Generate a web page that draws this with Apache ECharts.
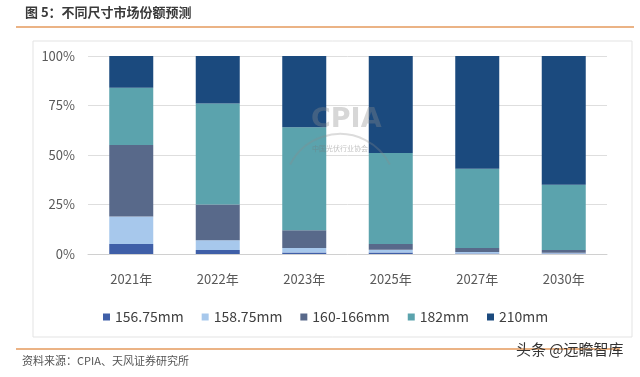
<!DOCTYPE html>
<html>
<head>
<meta charset="utf-8">
<script src="https://cdn.jsdelivr.net/npm/echarts@6/dist/echarts.min.js"></script>
<style>
  html, body { margin: 0; padding: 0; background: #fff; }
  #main { width: 640px; height: 377px; }
</style>
</head>
<body>
<div id="main"></div>
<script>
// 年份 / 各尺寸份额（%）
const years = ["2021年", "2022年", "2023年", "2025年", "2027年", "2030年"];
const s15675 = [5, 2, 0.8, 0.8, 0.3, 0.2];
const s15875 = [14, 5, 2.2, 1.3, 0.7, 0.4];
const s160166 = [36, 18, 9, 2.9, 2, 1.4];
const s182 = [29, 51, 52, 46, 40, 33];
const s210 = [16, 24, 36, 49, 57, 65];
const seriesNames = ["156.75mm", "158.75mm", "160-166mm", "182mm", "210mm"];
const colors = ["#3f5fa8", "#a7c8ec", "#58698a", "#5ba3ad", "#1b4a7e"];

const fontCN = '"Noto Sans CJK SC", "Noto Sans", sans-serif';
const chart = echarts.init(document.getElementById("main"));

const mk = (name, data, i) => ({
  name: name,
  type: "bar",
  stack: "total",
  barWidth: 44,
  data: data,
  itemStyle: { color: colors[i] },
});

const option = {
  animation: false,
  color: colors,
  textStyle: { fontFamily: fontCN },
  grid: { left: 88, right: 33, top: 56, bottom: 123 },
  legend: {
    data: seriesNames,
    left: 98,
    top: 305,
    itemWidth: 7,
    itemHeight: 7,
    itemGap: 18,
    icon: "rect",
    textStyle: { fontSize: 14, color: "#404040", fontFamily: fontCN },
  },
  xAxis: {
    type: "category",
    data: years,
    axisLine: { lineStyle: { color: "#d0d0d0" } },
    axisTick: { show: false },
    axisLabel: { fontSize: 13, color: "#595959", margin: 19 },
  },
  yAxis: {
    type: "value",
    min: 0,
    max: 100,
    interval: 25,
    axisLabel: { formatter: "{value}%", fontSize: 13, color: "#595959", margin: 13 },
    splitLine: { lineStyle: { color: "#dedede" } },
  },
  series: [
    mk(seriesNames[0], s15675, 0),
    mk(seriesNames[1], s15875, 1),
    mk(seriesNames[2], s160166, 2),
    mk(seriesNames[3], s182, 3),
    mk(seriesNames[4], s210, 4),
  ],
  graphic: [
    // 标题与分隔线
    { type: "text", left: 25, top: 6, z: 10,
      style: { text: "图 5：不同尺寸市场份额预测", font: 'bold 13px "Noto Sans CJK SC"', fill: "#3a3a3a" } },
    { type: "line", z: 10, shape: { x1: 16, y1: 27, x2: 634, y2: 27 },
      style: { stroke: "#e59a5c", lineWidth: 1.5 } },
    { type: "rect", z: -1, shape: { x: 33, y: 41, width: 599, height: 296 },
      style: { fill: "none", stroke: "#e3e3e3", lineWidth: 1 } },
    // 水印 CPIA
    { type: "text", left: 311, top: 106, z: 5,
      style: { text: "CPIA", font: 'bold 27px "DejaVu Sans"', fill: "rgba(140,140,140,0.35)" } },
    { type: "arc", z: 5, shape: { cx: 340, cy: 190, r: 56, startAngle: -Math.PI * 0.85, endAngle: -Math.PI * 0.15 },
      style: { stroke: "rgba(140,140,140,0.3)", lineWidth: 2, fill: "none" } },
    { type: "text", left: 312, top: 145, z: 5,
      style: { text: "中国光伏行业协会", font: '7px "Noto Sans CJK SC"', fill: "rgba(120,120,120,0.45)" } },
    // 资料来源
    { type: "line", z: 10, shape: { x1: 16, y1: 349, x2: 620, y2: 349 },
      style: { stroke: "#e59a5c", lineWidth: 1.5 } },
    { type: "text", left: 22, top: 355, z: 10,
      style: { text: "资料来源：CPIA、天风证券研究所", font: '11px "Noto Sans CJK SC"', fill: "#555" } },
    { type: "text", left: 516, top: 342, z: 10,
      style: { text: "头条 @远瞻智库", font: '15px "Noto Sans CJK SC"', fill: "#333" } },
  ],
};

chart.setOption(option);
</script>
</body>
</html>
